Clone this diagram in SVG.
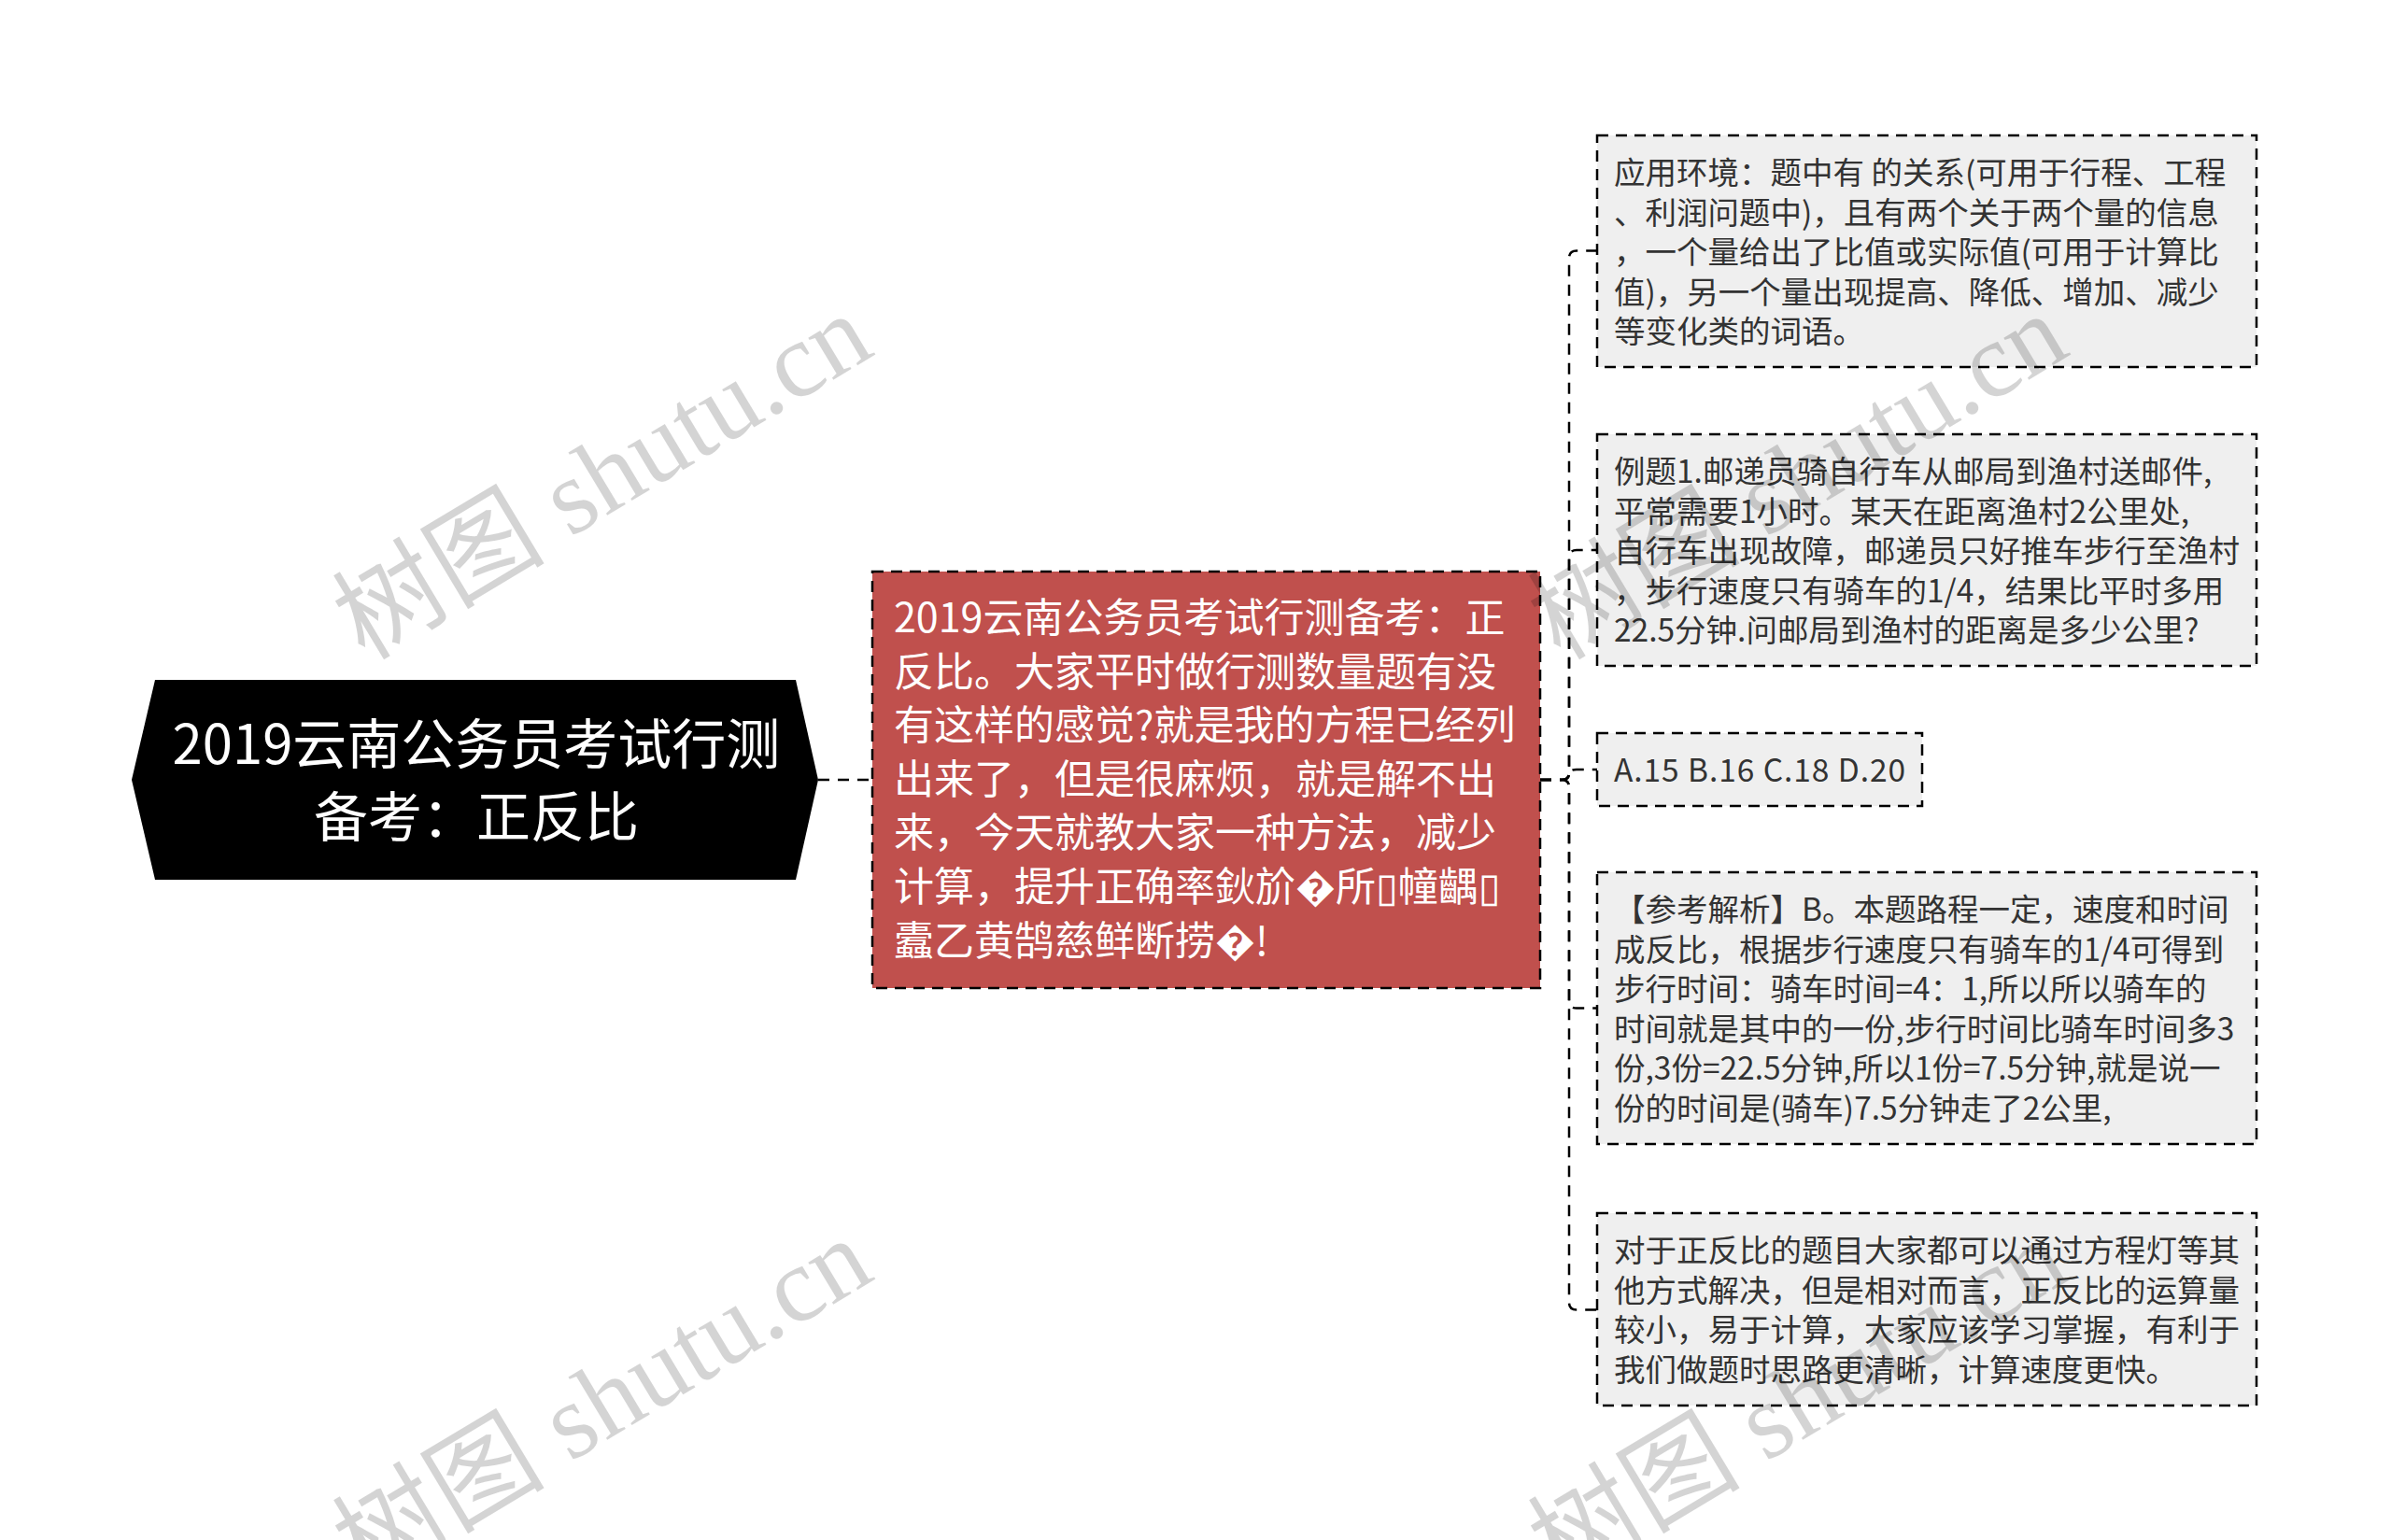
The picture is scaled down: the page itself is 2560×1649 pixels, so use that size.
<svg xmlns="http://www.w3.org/2000/svg" width="2560" height="1649" viewBox="0 0 2560 1649">
<defs>
<style>
.t{font-family:"Noto Sans CJK SC","Noto Sans","DejaVu Sans",sans-serif;}
.root-t{font-size:58px;fill:#ffffff;text-anchor:middle;}
.red-t{font-size:43px;fill:#ffffff;}
.g-t{font-size:33.5px;fill:#333333;}
.gbox{fill:#efefef;stroke:#000000;stroke-width:2.5;stroke-dasharray:12 8;}
.rbox{fill:#c0504d;stroke:#000000;stroke-width:2.5;stroke-dasharray:12 8;}
.conn{fill:none;stroke:#000000;stroke-width:2.5;stroke-dasharray:12 9;}
.wm{font-family:"Liberation Serif","Noto Sans CJK SC",serif;font-size:114px;fill:#000000;fill-opacity:0.17;text-anchor:middle;}
</style>
</defs>
<rect x="0" y="0" width="2560" height="1649" fill="#ffffff"/>

<g id="connectors">
<path class="conn" d="M876 835 H934" stroke-dasharray="34 7 12 7"/>
<path class="conn" d="M1649 835 H1672 Q1680 835 1680 827 V276.5 Q1680 268.5 1688 268.5 H1710"/>
<path class="conn" d="M1649 835 H1672 Q1680 835 1680 827 V597 Q1680 589 1688 589 H1710"/>
<path class="conn" d="M1649 835 H1672 Q1680 835 1680 829 V830 Q1680 824 1688 824 H1710"/>
<path class="conn" d="M1649 835 H1672 Q1680 835 1680 843 V1071.5 Q1680 1079.5 1688 1079.5 H1710"/>
<path class="conn" d="M1649 835 H1672 Q1680 835 1680 843 V1394.5 Q1680 1402.5 1688 1402.5 H1710"/>
</g>

<g id="root">
<polygon points="141,835 166,728 852,728 876,835 852,942 166,942" fill="#000000"/>
<text class="t root-t" x="510" y="818">2019云南公务员考试行测</text>
<text class="t root-t" x="510" y="896">备考：正反比</text>
</g>

<g id="main">
<rect class="rbox" x="934" y="612" width="715" height="446"/>
<text class="t red-t" x="957" y="677">2019云南公务员考试行测备考：正</text>
<text class="t red-t" x="957" y="734.6">反比。大家平时做行测数量题有没</text>
<text class="t red-t" x="957" y="792.2">有这样的感觉?就是我的方程已经列</text>
<text class="t red-t" x="957" y="849.8">出来了，但是很麻烦，就是解不出</text>
<text class="t red-t" x="957" y="907.4">来，今天就教大家一种方法，减少</text>
<text class="t red-t" x="957" y="965">计算，提升正确率鈥斺�所▯幢齵▯</text>
<text class="t red-t" x="957" y="1022.6">蠹乙黄鹄慈鲜断捞�!</text>
</g>

<g id="node1">
<rect class="gbox" x="1710" y="145" width="706" height="248"/>
<text class="t g-t" x="1728" y="197">应用环境：题中有 的关系(可用于行程、工程</text>
<text class="t g-t" x="1728" y="239.5">、利润问题中)，且有两个关于两个量的信息</text>
<text class="t g-t" x="1728" y="282">，一个量给出了比值或实际值(可用于计算比</text>
<text class="t g-t" x="1728" y="324.5">值)，另一个量出现提高、降低、增加、减少</text>
<text class="t g-t" x="1728" y="367">等变化类的词语。</text>
</g>

<g id="node2">
<rect class="gbox" x="1710" y="465" width="706" height="248"/>
<text class="t g-t" x="1728" y="517">例题1.邮递员骑自行车从邮局到渔村送邮件,</text>
<text class="t g-t" x="1728" y="559.5">平常需要1小时。某天在距离渔村2公里处,</text>
<text class="t g-t" x="1728" y="602">自行车出现故障，邮递员只好推车步行至渔村</text>
<text class="t g-t" x="1728" y="644.5">，步行速度只有骑车的1/4，结果比平时多用</text>
<text class="t g-t" x="1728" y="687">22.5分钟.问邮局到渔村的距离是多少公里?</text>
</g>

<g id="node3">
<rect class="gbox" x="1710" y="785" width="348" height="78"/>
<text class="t g-t" x="1728" y="837" textLength="312" lengthAdjust="spacing">A.15 B.16 C.18 D.20</text>
</g>

<g id="node4">
<rect class="gbox" x="1710" y="934" width="706" height="291"/>
<text class="t g-t" x="1728" y="986">【参考解析】B。本题路程一定，速度和时间</text>
<text class="t g-t" x="1728" y="1028.5">成反比，根据步行速度只有骑车的1/4可得到</text>
<text class="t g-t" x="1728" y="1071">步行时间：骑车时间=4：1,所以所以骑车的</text>
<text class="t g-t" x="1728" y="1113.5">时间就是其中的一份,步行时间比骑车时间多3</text>
<text class="t g-t" x="1728" y="1156">份,3份=22.5分钟,所以1份=7.5分钟,就是说一</text>
<text class="t g-t" x="1728" y="1198.5">份的时间是(骑车)7.5分钟走了2公里,</text>
</g>

<g id="node5">
<rect class="gbox" x="1710" y="1299" width="706" height="206"/>
<text class="t g-t" x="1728" y="1351">对于正反比的题目大家都可以通过方程灯等其</text>
<text class="t g-t" x="1728" y="1393.5">他方式解决，但是相对而言，正反比的运算量</text>
<text class="t g-t" x="1728" y="1436">较小，易于计算，大家应该学习掌握，有利于</text>
<text class="t g-t" x="1728" y="1478.5">我们做题时思路更清晰，计算速度更快。</text>
</g>

<g id="watermarks">
<text class="wm" transform="translate(644,509) rotate(-31)" y="40">树图 shutu.cn</text>
<text class="wm" transform="translate(1924,509) rotate(-31)" y="40">树图 shutu.cn</text>
<text class="wm" transform="translate(644,1499) rotate(-31)" y="40">树图 shutu.cn</text>
<text class="wm" transform="translate(1924,1499) rotate(-31)" y="40">树图 shutu.cn</text>
</g>
</svg>
